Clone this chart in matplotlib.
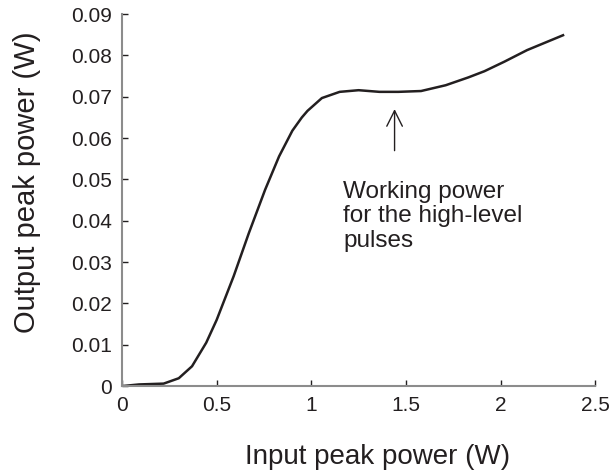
import matplotlib
matplotlib.use("Agg")
import matplotlib.pyplot as plt

# input / output peak power (W)
input_power = [0.0, 0.09, 0.22, 0.30, 0.37, 0.445, 0.50, 0.59, 0.67, 0.756, 0.83,
               0.90, 0.95, 0.98, 1.056, 1.15, 1.25, 1.36, 1.46, 1.58, 1.71, 1.83,
               1.915, 2.02, 2.14, 2.33]
output_power = [0.0, 0.0004, 0.0006, 0.0019, 0.0048, 0.0105, 0.016, 0.0266, 0.037,
                0.0475, 0.0556, 0.0618, 0.0650, 0.0666, 0.0697, 0.0712, 0.0716, 0.0712,
                0.0712, 0.0714, 0.0728, 0.0747, 0.0762, 0.0785, 0.0813, 0.0849]

x_ticks = [0, 0.5, 1, 1.5, 2, 2.5]
x_tick_labels = ["0", "0.5", "1", "1.5", "2", "2.5"]
y_ticks = [0, 0.01, 0.02, 0.03, 0.04, 0.05, 0.06, 0.07, 0.08, 0.09]
y_tick_labels = ["0", "0.01", "0.02", "0.03", "0.04", "0.05", "0.06", "0.07", "0.08", "0.09"]

plt.rcParams["font.family"] = ["Liberation Sans", "DejaVu Sans"]

fig = plt.figure(figsize=(6.13, 4.72), dpi=100)
ax = fig.add_axes([0.199, 0.182, 0.772, 0.788])

ax.plot(input_power, output_power, color="#231f20", lw=1.8)

# annotation: arrow + text
ax.annotate("", xy=(1.44, 0.0677), xytext=(1.44, 0.0563),
            arrowprops=dict(arrowstyle="->", color="#231f20", lw=1.0,
                            mutation_scale=28))
ax.text(1.17, 0.0497, "Working power\nfor the high-level\npulses",
        fontsize=17.5, color="#231f20", va="top", ha="left", linespacing=1.15)

ax.set_xlim(0, 2.5)
ax.set_ylim(0, 0.09)
ax.set_xticks(x_ticks)
ax.set_xticklabels(x_tick_labels)
ax.set_yticks(y_ticks)
ax.set_yticklabels(y_tick_labels)
ax.tick_params(direction="in", length=4, width=1, color="#231f20",
               labelsize=15, labelcolor="#231f20", pad=7)

for side in ["top", "right"]:
    ax.spines[side].set_visible(False)
for side in ["left", "bottom"]:
    ax.spines[side].set_color("#8c8c8c")
    ax.spines[side].set_linewidth(1.5)

ax.set_xlabel("Input peak power (W)", fontsize=20, color="#231f20")
ax.xaxis.set_label_coords(0.54, -0.155)
ax.set_ylabel("Output peak power (W)", fontsize=21, color="#231f20")
ax.yaxis.set_label_coords(-0.172, 0.548)

fig.savefig("out.png", dpi=100)
